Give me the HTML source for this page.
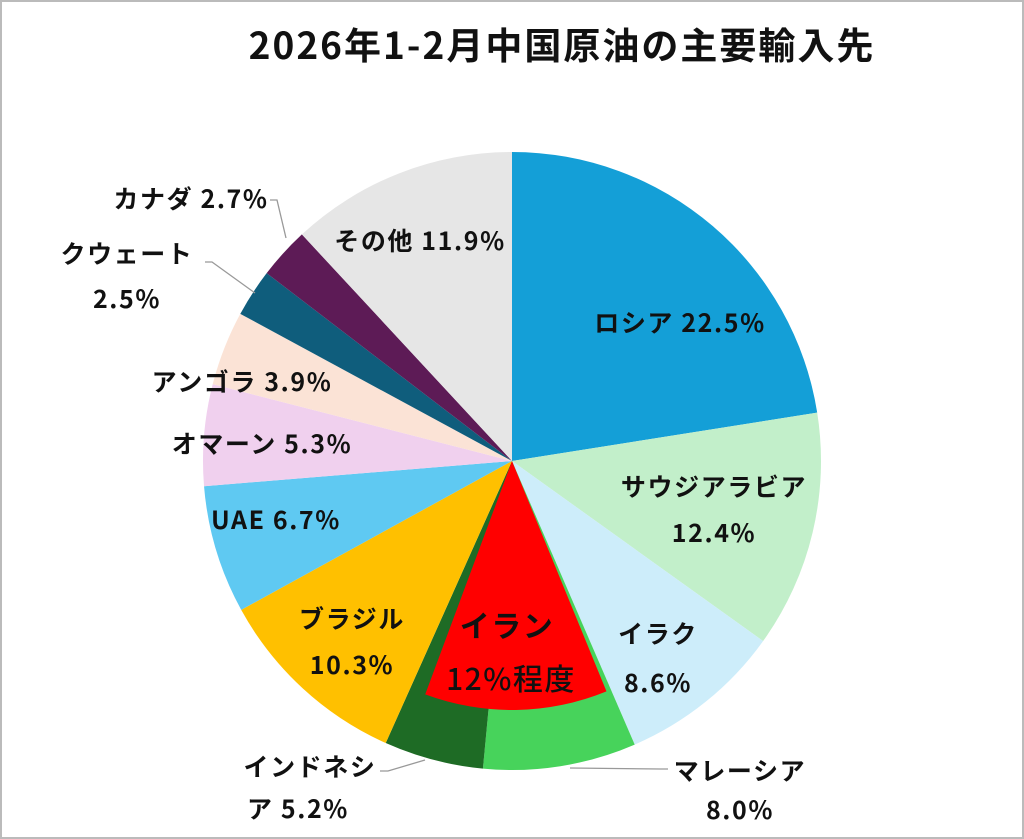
<!DOCTYPE html>
<html><head><meta charset="utf-8"><style>
html,body{margin:0;padding:0;background:#fff}
svg{display:block}
text{font-family:"Noto Sans CJK JP","Liberation Sans",sans-serif;font-weight:bold;fill:#111}
</style></head><body>
<svg id="s" width="1024" height="839" xmlns="http://www.w3.org/2000/svg">
<rect x="1" y="1" width="1022" height="837" fill="#fff" stroke="#bbb" stroke-width="2"/>
<g id="pie"></g>
<text x="562" y="59" font-size="37" letter-spacing="2" text-anchor="middle">2026年1-2月中国原油の主要輸入先</text>
<g font-size="25" letter-spacing="1.6" text-anchor="middle">
<text x="680" y="332">ロシア 22.5%</text>
<text x="714" y="496">サウジアラビア</text>
<text x="714" y="542">12.4%</text>
<text x="658" y="643">イラク</text>
<text x="658" y="692">8.6%</text>
<text x="740" y="780">マレーシア</text>
<text x="740" y="819">8.0%</text>
<text x="310" y="776">インドネシ</text>
<text x="298" y="818">ア 5.2%</text>
<text x="352" y="628">ブラジル</text>
<text x="352" y="674">10.3%</text>
<text x="276" y="529">UAE 6.7%</text>
<text x="262" y="453">オマーン 5.3%</text>
<text x="242" y="391">アンゴラ 3.9%</text>
<text x="127" y="263">クウェート</text>
<text x="127" y="308">2.5%</text>
<text x="191" y="208">カナダ 2.7%</text>
<text x="420" y="250">その他 11.9%</text>
</g>
<g font-size="30" letter-spacing="1.5" text-anchor="middle">
<text x="507" y="637">イラン</text>
<text x="511" y="690" style="font-weight:500">12%程度</text>
</g>
<g stroke="#999" stroke-width="1.3" fill="none">
<polyline points="270,200 277,200 286,238"/>
<polyline points="205,262 212,262 255,293"/>
<polyline points="380,771 388,771 425,760"/>
<polyline points="668,769 660,769 570,768"/>
</g>
</svg>
<script>
var data=[[22.5,"#149fd7"],[12.4,"#c2efca"],[8.6,"#cdedfa"],[8.0,"#47d35b"],[5.2,"#1e6b25"],[10.3,"#ffc000"],[6.7,"#5fc9f2"],[5.3,"#f0d0ee"],[3.9,"#fbe3d6"],[2.5,"#0f5d7c"],[2.7,"#5d1b56"],[11.9,"#e6e6e6"]];
var cx=512,cy=461,r=309,a=0,g=document.getElementById("pie"),h="";
function pt(deg,rr){var t=deg*Math.PI/180;return [cx+rr*Math.sin(t),cy-rr*Math.cos(t)];}
data.forEach(function(d){var a2=a+d[0]*3.6;var p1=pt(a,r),p2=pt(a2,r);
h+='<path d="M'+cx+','+cy+' L'+p1[0]+','+p1[1]+' A'+r+','+r+' 0 '+(a2-a>180?1:0)+' 1 '+p2[0]+','+p2[1]+' Z" fill="'+d[1]+'"/>';a=a2;});
var q1=pt(157.7,249),q2=pt(200.4,249);
h+='<path d="M'+cx+','+cy+' L'+q1[0]+','+q1[1]+' A249,249 0 0 1 '+q2[0]+','+q2[1]+' Z" fill="#ff0000"/>';
g.innerHTML=h;
</script>
</body></html>
